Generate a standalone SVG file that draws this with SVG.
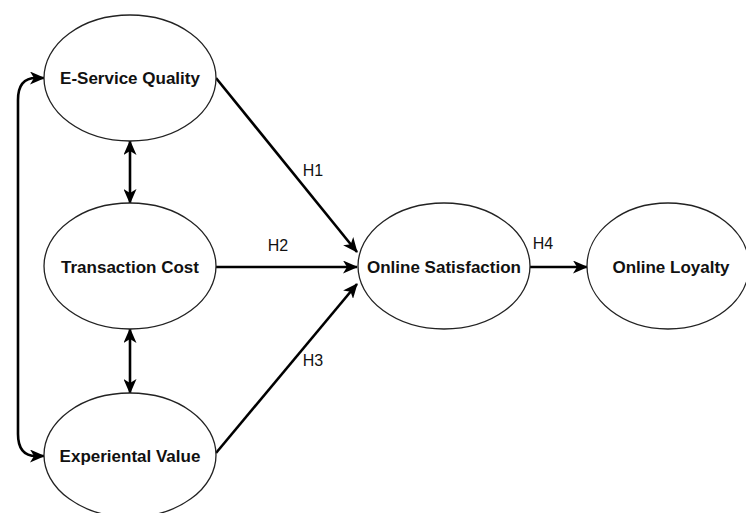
<svg xmlns="http://www.w3.org/2000/svg" width="746" height="513" viewBox="0 0 746 513">
<style>
.node ellipse{fill:#fff;stroke:#222;stroke-width:1.3}
.node text{font-family:"Liberation Sans",Arial,sans-serif;font-weight:bold;font-size:17px;fill:#111;text-anchor:middle;dominant-baseline:central}
.edge{fill:none;stroke:#000;stroke-width:2.6}
.lbl{font-family:"Liberation Sans",Arial,sans-serif;font-size:16px;fill:#111;text-anchor:middle;dominant-baseline:central}
</style>
<defs>
<marker id="ah" viewBox="0 0 15 13" refX="14" refY="6.5" markerWidth="15" markerHeight="13" markerUnits="userSpaceOnUse" orient="auto-start-reverse">
<path d="M0,0 L15,6.5 L0,13 L4,6.5 Z" fill="#000"/>
</marker>
</defs>
<rect width="746" height="513" fill="#fff"/>
<g id="connectors">
<path class="edge" d="M44,78 L36,78 Q18,78 18,100 L18,434 Q18,456 36,456 L44,456" marker-start="url(#ah)" marker-end="url(#ah)"/>
<line class="edge" x1="130" y1="141" x2="130" y2="203" marker-start="url(#ah)" marker-end="url(#ah)"/>
<line class="edge" x1="130" y1="329" x2="130" y2="393" marker-start="url(#ah)" marker-end="url(#ah)"/>
<line class="edge" x1="216" y1="78" x2="357" y2="252" marker-end="url(#ah)"/>
<line class="edge" x1="216" y1="267" x2="357" y2="267" marker-end="url(#ah)"/>
<line class="edge" x1="216" y1="453" x2="357" y2="284" marker-end="url(#ah)"/>
<line class="edge" x1="530" y1="267" x2="587" y2="267" marker-end="url(#ah)"/>
<text class="lbl" x="313" y="170">H1</text>
<text class="lbl" x="278" y="245">H2</text>
<text class="lbl" x="313" y="360">H3</text>
<text class="lbl" x="543" y="243">H4</text>
</g>
<g id="n-esq" class="node"><ellipse cx="130" cy="78" rx="86" ry="63"/><text x="130" y="78">E-Service Quality</text></g>
<g id="n-tc" class="node"><ellipse cx="130" cy="266" rx="86" ry="63"/><text x="130" y="267">Transaction Cost</text></g>
<g id="n-ev" class="node"><ellipse cx="130" cy="455" rx="86" ry="62"/><text x="130" y="456">Experiental Value</text></g>
<g id="n-os" class="node"><ellipse cx="444" cy="266" rx="86" ry="63"/><text x="444" y="267">Online Satisfaction</text></g>
<g id="n-ol" class="node"><ellipse cx="668" cy="266" rx="81" ry="63"/><text x="671" y="267">Online Loyalty</text></g>
</svg>
